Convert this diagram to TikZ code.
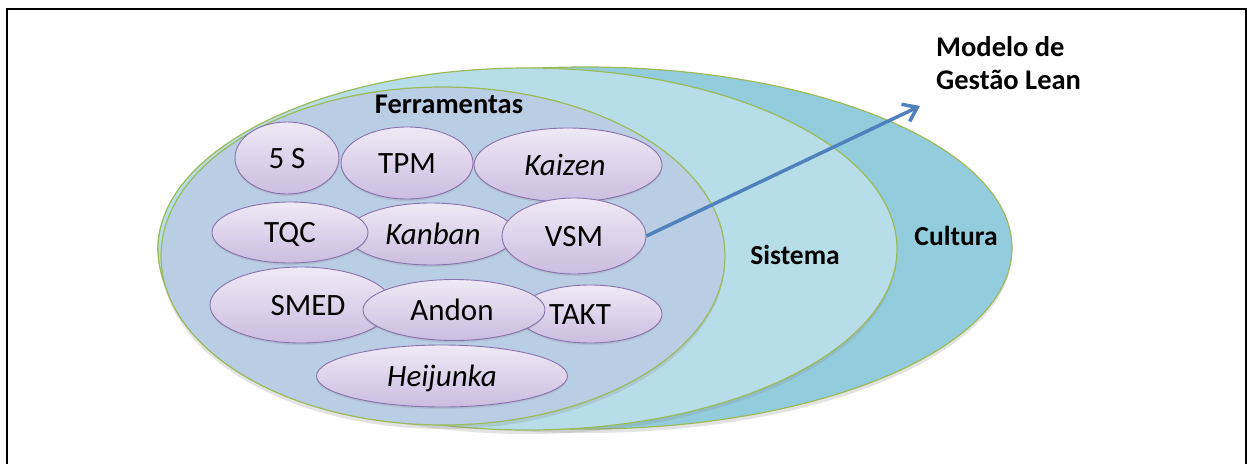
\documentclass[tikz,border=0pt]{standalone}
\usepackage{fontspec}
\setmainfont{Carlito}
\usetikzlibrary{shapes.geometric,shadows,arrows.meta}
\definecolor{cultura}{HTML}{93CDDD}
\definecolor{sistema}{HTML}{B7DEE8}
\definecolor{ferram}{HTML}{B9CDE5}
\definecolor{ringgreen}{HTML}{9BBB59}
\definecolor{toolline}{HTML}{8A70AC}
\definecolor{tooltop}{HTML}{EFE9F6}
\definecolor{toolbot}{HTML}{CBBDE0}
\definecolor{arrowc}{HTML}{4F81BD}
\begin{document}
\begin{tikzpicture}[x=1pt,y=-1pt,
  bigell/.style={draw=ringgreen, line width=1.2pt,
    drop shadow={opacity=0.22, shadow xshift=0pt, shadow yshift=-4pt}},
  tool/.style={ellipse, draw=toolline, line width=0.9pt, top color=tooltop, bottom color=toolbot,
    inner sep=0pt, font=\fontsize{31}{37}\selectfont, text height=20pt, text depth=0pt,
    drop shadow={opacity=0.18, shadow xshift=0pt, shadow yshift=-2pt}},
  biglabel/.style={font=\bfseries\fontsize{27.5}{32}\selectfont, text height=17.7pt, text depth=0pt, inner sep=0pt},
  linkarrow/.style={draw=arrowc, line width=3.5pt, -{Straight Barb[length=13pt,width=19pt]}}]
\useasboundingbox (0,0) rectangle (1247,464);
\fill[white] (0,0) rectangle (1247,464);
\draw[line width=2pt] (7,464) -- (7,9) -- (1245.5,9) -- (1245.5,464);

% big rings
\path[bigell, fill=cultura] (585,248) ellipse [x radius=427pt, y radius=181pt];
\path[bigell, fill=sistema] (527.5,249) ellipse [x radius=369.5pt, y radius=181pt];
\path[bigell, fill=ferram] (443,256) ellipse [x radius=282pt, y radius=169pt];

\node[biglabel] (cult) at (956,237) {Cultura};
\node[biglabel] (sist) at (795,256) {Sistema};
\node[biglabel, font=\bfseries\fontsize{28.5}{32}\selectfont] (ferr) at (449,104.5) {Ferramentas};

% tools
\node[tool, minimum width=104pt, minimum height=72pt] (s5) at (287,158) {5 S};
\node[tool, minimum width=132pt, minimum height=72pt] (tpm) at (407,163) {TPM};
\node[tool, minimum width=188pt, minimum height=74pt] (kaizen) at (568,165) {\itshape\hspace*{-6pt}Kaizen};
\node[tool, minimum width=168pt, minimum height=62pt] (kanban) at (431,234) {\itshape\hspace*{4pt}Kanban};
\node[tool, minimum width=156pt, minimum height=61pt] (tqc) at (290,232.5) {TQC};
\node[tool, minimum width=144pt, minimum height=76pt] (vsm) at (574,236) {VSM};
\node[tool, minimum width=182pt, minimum height=76pt] (smed) at (301,305) {\hspace*{14pt}SMED};
\node[tool, minimum width=144pt, minimum height=58pt] (takt) at (590,314) {\hspace*{-20pt}TAKT};
\node[tool, minimum width=182pt, minimum height=61pt] (andon) at (454,310) {\hspace*{-4pt}Andon};
\node[tool, minimum width=251pt, minimum height=62pt] (heij) at (442,376) {\itshape Heijunka};

% model label and arrow
\node[anchor=north west, align=left, inner sep=0pt,
  font=\bfseries\fontsize{28.5}{33}\selectfont] (modelo) at (936,36) {Modelo de\\Gestão Lean};
\coordinate (tip) at (920,106);
\draw[linkarrow] (vsm.east) -- (tip);
\end{tikzpicture}
\end{document}
